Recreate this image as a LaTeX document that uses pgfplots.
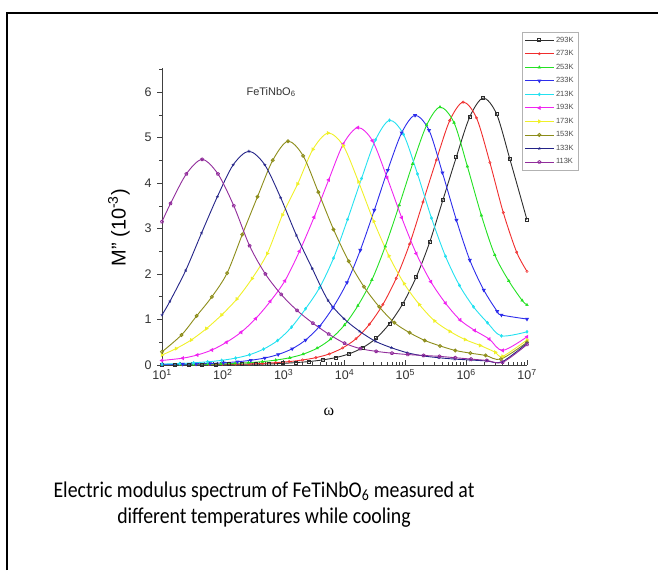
\documentclass[border=0pt]{standalone}
\usepackage{fontspec}
\setmainfont{Liberation Sans}
\newfontfamily\capfont{Carlito}
\newfontfamily\seriffont{Liberation Serif}
\usepackage{pgfplots}
\usepackage{pgfplotstable}
\pgfplotsset{compat=1.18}
\usetikzlibrary{plotmarks}

\definecolor{c293}{RGB}{45,45,45}
\definecolor{c273}{RGB}{240,45,45}
\definecolor{c253}{RGB}{35,225,35}
\definecolor{c233}{RGB}{45,45,235}
\definecolor{c213}{RGB}{35,225,240}
\definecolor{c193}{RGB}{240,35,240}
\definecolor{c173}{RGB}{240,240,40}
\definecolor{c153}{RGB}{140,140,25}
\definecolor{c133}{RGB}{35,35,135}
\definecolor{c113}{RGB}{145,45,155}

% M'' versus log10(omega), one table per temperature
\pgfplotstableread{
lw y
1.00 0.006
1.22 0.007
1.44 0.008
1.66 0.010
1.88 0.012
2.10 0.014
2.32 0.016
2.54 0.019
2.76 0.023
2.98 0.035
3.20 0.053
3.42 0.076
3.64 0.112
3.86 0.164
4.08 0.247
4.30 0.382
4.52 0.587
4.74 0.910
4.96 1.350
5.18 1.937
5.40 2.700
5.62 3.639
5.84 4.579
6.06 5.459
6.28 5.870
6.50 5.518
6.72 4.520
7.00 3.190
}\Ta
\pgfplotstableread{
lw y
1.00 0.006
1.33 0.010
1.55 0.012
1.77 0.014
1.99 0.016
2.21 0.019
2.43 0.023
2.65 0.035
2.87 0.052
3.09 0.075
3.31 0.110
3.53 0.162
3.75 0.243
3.97 0.376
4.19 0.578
4.41 0.896
4.63 1.329
4.85 1.907
5.07 2.659
5.29 3.584
5.51 4.508
5.73 5.375
5.95 5.780
6.17 5.433
6.39 4.451
6.61 3.352
6.83 2.480
7.00 2.060
}\Tb
\pgfplotstableread{
lw y
1.00 0.010
1.30 0.014
1.52 0.016
1.75 0.019
1.97 0.023
2.20 0.034
2.42 0.051
2.65 0.074
2.87 0.108
3.10 0.159
3.32 0.238
3.55 0.369
3.77 0.567
4.00 0.879
4.22 1.304
4.45 1.871
4.67 2.608
4.90 3.515
5.12 4.423
5.35 5.273
5.57 5.670
5.80 5.330
6.02 4.366
6.25 3.289
6.47 2.420
6.70 1.850
6.92 1.420
7.00 1.320
}\Tc
\pgfplotstableread{
lw y
1.00 0.012
1.34 0.018
1.56 0.022
1.79 0.033
2.01 0.049
2.24 0.071
2.46 0.104
2.69 0.154
2.91 0.231
3.14 0.357
3.36 0.549
3.59 0.851
3.81 1.263
4.04 1.812
4.26 2.525
4.49 3.404
4.71 4.282
4.94 5.106
5.16 5.490
5.39 5.161
5.61 4.227
5.84 3.184
6.06 2.306
6.29 1.647
6.51 1.180
6.58 1.100
7.00 1.010
}\Td
\pgfplotstableread{
lw y
1.00 0.020
1.29 0.032
1.52 0.048
1.75 0.070
1.98 0.102
2.21 0.151
2.44 0.226
2.67 0.350
2.90 0.538
3.13 0.834
3.36 1.237
3.59 1.700
3.82 2.350
4.05 3.200
4.28 4.100
4.51 4.950
4.74 5.380
4.97 5.070
5.20 4.200
5.43 3.230
5.66 2.390
5.89 1.750
6.12 1.280
6.35 0.930
6.58 0.640
7.00 0.730
}\Te
\pgfplotstableread{
lw y
1.00 0.10
1.34 0.15
1.58 0.22
1.82 0.33
2.06 0.50
2.30 0.72
2.54 1.02
2.78 1.40
3.02 1.85
3.26 2.50
3.50 3.25
3.74 4.07
3.98 4.86
4.22 5.22
4.46 4.93
4.70 4.12
4.94 3.24
5.18 2.45
5.42 1.83
5.66 1.36
5.90 0.99
6.14 0.76
6.38 0.57
6.60 0.32
7.00 0.62
}\Tf
\pgfplotstableread{
lw y
1.00 0.22
1.23 0.36
1.48 0.55
1.73 0.80
1.98 1.10
2.23 1.45
2.48 1.90
2.73 2.45
2.98 3.30
3.23 3.98
3.48 4.74
3.73 5.10
3.98 4.82
4.23 4.03
4.48 3.16
4.73 2.40
4.98 1.79
5.23 1.33
5.48 0.97
5.73 0.74
5.98 0.56
6.23 0.43
6.48 0.28
6.60 0.19
7.00 0.55
}\Tg
\pgfplotstableread{
lw y
1.00 0.29
1.32 0.66
1.57 1.08
1.82 1.50
2.07 2.02
2.32 2.87
2.57 3.70
2.82 4.50
3.07 4.92
3.32 4.60
3.57 3.80
3.82 2.98
4.07 2.28
4.32 1.72
4.57 1.28
4.82 0.93
5.07 0.71
5.32 0.54
5.57 0.42
5.82 0.32
6.07 0.26
6.32 0.21
6.57 0.13
7.00 0.50
}\Th
\pgfplotstableread{
lw y
1.00 1.10
1.13 1.40
1.39 2.08
1.65 2.90
1.91 3.70
2.17 4.40
2.43 4.70
2.69 4.40
2.95 3.68
3.21 2.85
3.47 2.12
3.73 1.42
3.99 1.02
4.25 0.74
4.51 0.52
4.77 0.38
5.03 0.27
5.29 0.20
5.55 0.16
5.81 0.13
6.07 0.11
6.33 0.09
6.59 0.07
7.00 0.48
}\Ti
\pgfplotstableread{
lw y
1.00 3.15
1.14 3.55
1.40 4.20
1.66 4.52
1.92 4.20
2.18 3.50
2.44 2.62
2.70 2.00
2.96 1.55
3.22 1.20
3.48 0.92
3.74 0.68
4.00 0.48
4.26 0.36
4.52 0.30
4.78 0.26
5.04 0.23
5.30 0.21
5.56 0.19
5.82 0.16
6.08 0.13
6.34 0.10
6.60 0.06
7.00 0.45
}\Tj

\begin{document}
\begin{tikzpicture}[x=1pt,y=1pt]
\useasboundingbox (0,0) rectangle (658,570);
\draw[line width=1.6pt] (7,0) -- (7,557) -- (658,557);
\begin{axis}[
  at={(162pt,205pt)}, anchor=south west,
  scale only axis, width=365pt, height=297pt,
  xmin=1, xmax=7, ymin=0, ymax=6.53,
  axis lines=left,
  axis line style={-, line width=0.7pt, black!75},
  xtick={1,2,3,4,5,6,7},
  xticklabels={10\textsuperscript{1},10\textsuperscript{2},10\textsuperscript{3},10\textsuperscript{4},10\textsuperscript{5},10\textsuperscript{6},10\textsuperscript{7}},
  minor xtick={1.301,1.477,1.602,1.699,1.778,1.845,1.903,1.954,
    2.301,2.477,2.602,2.699,2.778,2.845,2.903,2.954,
    3.301,3.477,3.602,3.699,3.778,3.845,3.903,3.954,
    4.301,4.477,4.602,4.699,4.778,4.845,4.903,4.954,
    5.301,5.477,5.602,5.699,5.778,5.845,5.903,5.954,
    6.301,6.477,6.602,6.699,6.778,6.845,6.903,6.954},
  ytick={0,1,2,3,4,5,6},
  minor ytick={0.5,1.5,2.5,3.5,4.5,5.5,6.5},
  xtick align=inside, ytick align=outside,
  major tick length=5pt, minor tick length=3pt,
  every tick/.style={black!75, line width=0.6pt},
  /pgf/number format/assume math mode=true,
  ticklabel style={font=\fontsize{12.5}{14}\selectfont, text=black!80},
  xticklabel style={yshift=-1pt},
  yticklabel style={xshift=-2pt},
  xlabel={\seriffont ω},
  xlabel style={at={(axis description cs:0.4575,0)}, anchor=center, yshift=-47pt, font=\fontsize{16}{17}\selectfont},
  ylabel={M" (10\textsuperscript{-3})},
  ylabel style={at={(axis description cs:-0.118,0.462)}, anchor=center, font=\fontsize{20}{23}\selectfont},
  every axis plot/.append style={line width=0.9pt, smooth, mark size=1.5pt, mark options={solid, line width=0.5pt}},
  legend style={at={(0.986,1.121)}, anchor=north west, draw=gray!60, line width=0.6pt,
    font=\fontsize{7.5}{8.5}\selectfont, text=black!70, row sep=2.8pt, inner sep=2.5pt},
  legend cell align=left,
  legend image code/.code={\draw[mark repeat=2,mark phase=2] plot coordinates {(0cm,0cm) (0.5cm,0cm) (1.0cm,0cm)};},
]
\addplot[c293, mark=square, mark options={fill=white}] table[x=lw,y=y] {\Ta};
\addplot[c273, mark=o, mark size=1.2pt] table[x=lw,y=y] {\Tb};
\addplot[c253, mark=triangle*] table[x=lw,y=y] {\Tc};
\addplot[c233, mark=triangle*, mark options={rotate=180}] table[x=lw,y=y] {\Td};
\addplot[c213, mark=diamond*] table[x=lw,y=y] {\Te};
\addplot[c193, mark=triangle*, mark options={rotate=90}] table[x=lw,y=y] {\Tf};
\addplot[c173, mark=triangle*, mark options={rotate=-90}] table[x=lw,y=y] {\Tg};
\addplot[c153, mark=o, mark options={fill=white}] table[x=lw,y=y] {\Th};
\addplot[c133, mark=star] table[x=lw,y=y] {\Ti};
\addplot[c113, mark=pentagon, mark options={fill=white}] table[x=lw,y=y] {\Tj};
\legend{293K,273K,253K,233K,213K,193K,173K,153K,133K,113K}
\node[anchor=west, font=\fontsize{11}{12}\selectfont, text=black!80] at (rel axis cs:0.222,0.919) {FeTiNbO\textsubscript{6}};
\end{axis}
\node[anchor=base, font=\capfont\fontsize{22.5}{26}\selectfont] at (264,73) {\scalebox{0.88}[1]{Electric modulus spectrum of FeTiNbO\textsubscript{6} measured at}};
\node[anchor=base, font=\capfont\fontsize{22.5}{26}\selectfont] at (264,47) {\scalebox{0.88}[1]{different temperatures while cooling}};
\end{tikzpicture}
\end{document}
